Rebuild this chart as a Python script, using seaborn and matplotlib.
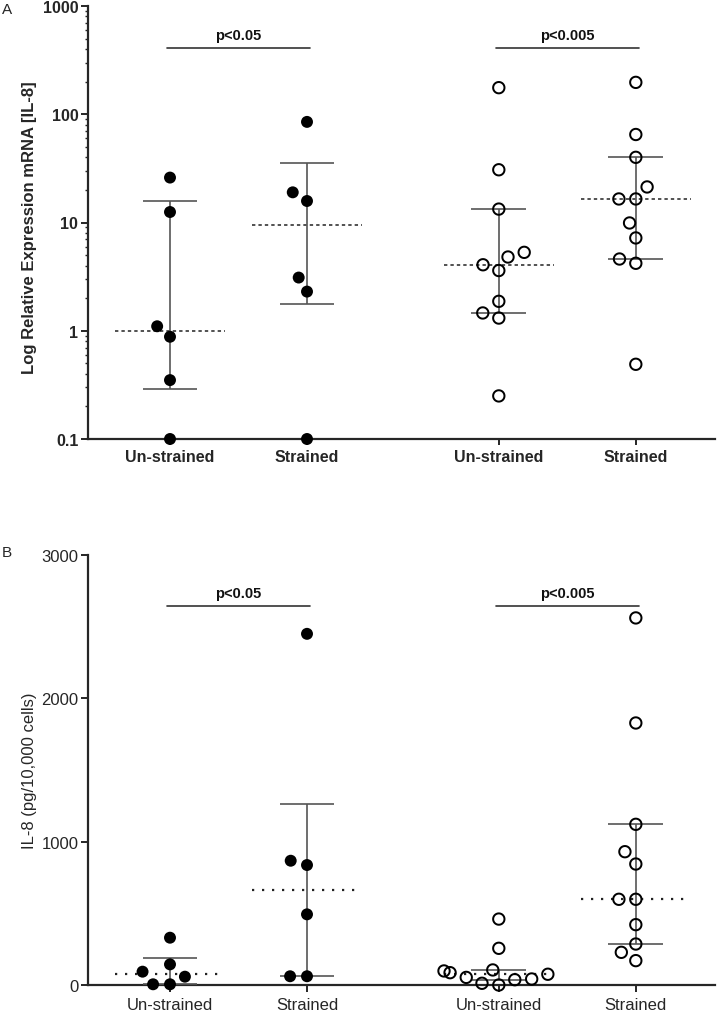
import numpy as np
import pandas as pd
import matplotlib
matplotlib.use("Agg")
import matplotlib.pyplot as plt
from matplotlib.path import Path
import seaborn as sns
from matplotlib.ticker import FixedLocator, LogLocator, NullFormatter

# ---------------- data ----------------
conditions = ["Un-strained", "Strained", "Un-strained", "Strained"]
cohorts = ["filled", "filled", "open", "open"]

# Panel A: Log relative expression mRNA [IL-8]
mrna_c1_unstrained = [26, 12.5, 1.1, 0.88, 0.35, 0.1]
mrna_c1_strained = [85, 19, 15.8, 3.1, 2.3, 0.1]
mrna_c2_unstrained = [176, 30.7, 13.3, 5.3, 4.8, 4.07, 3.6, 1.87, 1.46, 1.31, 0.25]
mrna_c2_strained = [197, 65, 40, 21.3, 16.5, 16.5, 9.9, 7.2, 4.6, 4.2, 0.49]

# Panel B: IL-8 (pg/10,000 cells)
il8_c1_unstrained = [330, 144, 93, 58, 5, 5]
il8_c1_strained = [2450, 867, 837, 493, 61, 61]
il8_c2_unstrained = [460, 256, 105, 98, 86, 75, 53, 42, 37, 12, 0]
il8_c2_strained = [2561, 1828, 1121, 930, 844, 598, 598, 421, 286, 228, 170]

p_labels = ["p<0.05", "p<0.005"]
sig_y_A = 410
sig_y_B = 2645

yticks_A = [0.1, 1, 10, 100, 1000]
yticklabels_A = ["0.1", "1", "10", "100", "1000"]
yticks_B = [0, 1000, 2000, 3000]
yticklabels_B = ["0", "1000", "2000", "3000"]

ylabel_A = "Log Relative Expression mRNA [IL-8]"
ylabel_B = "IL-8 (pg/10,000 cells)"

# ---------------- layout ----------------
positions = [1.0, 2.0, 3.4, 4.4]
XLIM = (0.4015, 4.978)

sns.set_style("ticks")
plt.rcParams["font.family"] = ["Liberation Sans", "DejaVu Sans"]
plt.rcParams["axes.linewidth"] = 1.5


def ring_marker(inner=0.70, n=72):
    t = np.linspace(0, 2 * np.pi, n, endpoint=False)
    outer = np.column_stack([np.cos(t), np.sin(t)])
    inn = np.column_stack([np.cos(t[::-1]), np.sin(t[::-1])]) * inner
    verts = np.vstack([outer, outer[:1], inn, inn[:1]])
    codes = ([Path.MOVETO] + [Path.LINETO] * (n - 1) + [Path.CLOSEPOLY]) * 2
    return Path(verts, codes)


RING = ring_marker()

fig = plt.figure(figsize=(7.2, 10.12), dpi=100)
axA = fig.add_axes([88 / 720, 1 - 440 / 1012, 627 / 720, 433 / 1012])
axB = fig.add_axes([88 / 720, 1 - 986 / 1012, 627 / 720, 430 / 1012])


def long_df(groups):
    rows = []
    for i, vals in enumerate(groups):
        for v in vals:
            rows.append({"pos": positions[i], "value": v, "cohort": cohorts[i]})
    return pd.DataFrame(rows)


def draw_panel(ax, groups, log, med_style, med_lw, bar_color, sig_y, p_size):
    df = long_df(groups)
    for cohort in ["filled", "open"]:
        sub = df[df["cohort"] == cohort]
        n_before = len(ax.collections)
        if cohort == "filled":
            sns.swarmplot(data=sub, x="pos", y="value", native_scale=True,
                          orient="v", color="black", size=8.6,
                          log_scale=(False, True) if log else None,
                          ax=ax, clip_on=False, zorder=5)
            pad = 3.0
        else:
            sns.swarmplot(data=sub, x="pos", y="value", native_scale=True,
                          orient="v", color="black", size=9.6, marker=RING,
                          log_scale=(False, True) if log else None,
                          ax=ax, clip_on=False, zorder=5)
            pad = 2.0
        for coll in ax.collections[n_before:]:
            coll.set_facecolor("black")
            coll.set_edgecolor("none")
            coll.set_linewidth(pad)  # invisible padding, widens the swarm spacing

    for i, vals in enumerate(groups):
        p = positions[i]
        med = np.median(vals)
        q1, q3 = np.percentile(vals, [25, 75], method="weibull")
        ax.hlines(med, p - 0.4, p + 0.4, colors="#222222", linestyles=med_style,
                  linewidth=med_lw, zorder=3)
        ax.vlines(p, q1, q3, colors=bar_color, linewidth=1.2, zorder=3)
        ax.hlines([q1, q3], p - 0.2, p + 0.2, colors=bar_color, linewidth=1.2, zorder=3)

    # significance bars
    for k, (a, b) in enumerate([(0, 1), (2, 3)]):
        xa, xb = positions[a] - 0.02, positions[b] + 0.02
        ax.plot([xa, xb], [sig_y, sig_y], color="#333333", lw=1.2, zorder=3)
        ax.annotate(p_labels[k], xy=((xa + xb) / 2, sig_y), xytext=(0, 9.5),
                    textcoords="offset points", ha="center", va="center",
                    fontsize=p_size, fontweight="bold", color="#111111")

    ax.set_xlim(*XLIM)
    ax.set_xticks(positions)
    sns.despine(ax=ax)
    ax.spines["left"].set_linewidth(1.6)
    ax.spines["bottom"].set_linewidth(1.6)
    ax.set_xlabel("")


# ---------------- Panel A ----------------
draw_panel(axA, [mrna_c1_unstrained, mrna_c1_strained, mrna_c2_unstrained, mrna_c2_strained],
           True, (0, (2.2, 2.0)), 1.1, "#555555", sig_y_A, 10.5)
axA.set_ylim(0.1, 1000)
axA.yaxis.set_major_locator(FixedLocator(yticks_A))
axA.set_yticklabels(yticklabels_A, fontsize=11.5, fontweight="bold")
axA.yaxis.set_minor_locator(LogLocator(base=10, subs=np.arange(2, 10)))
axA.yaxis.set_minor_formatter(NullFormatter())
axA.set_xticklabels(conditions, fontsize=11.5, fontweight="bold")
axA.tick_params(axis="y", which="major", length=5, width=1.4, pad=2)
axA.tick_params(axis="y", which="minor", length=2.5, width=1.0)
axA.tick_params(axis="x", length=4, width=1.4, pad=3)
axA.set_ylabel(ylabel_A, fontsize=12, fontweight="bold")
axA.yaxis.set_label_coords(-0.081, 0.49)

# ---------------- Panel B ----------------
draw_panel(axB, [il8_c1_unstrained, il8_c1_strained, il8_c2_unstrained, il8_c2_strained],
           False, (0, (1.0, 3.5)), 1.6, "#555555", sig_y_B, 10.5)
axB.set_ylim(0, 3000)
axB.set_yticks(yticks_B)
axB.set_yticklabels(yticklabels_B, fontsize=12)
axB.set_xticklabels(conditions, fontsize=12)
axB.tick_params(axis="y", length=5, width=1.4, pad=2)
axB.tick_params(axis="x", length=5, width=1.4, pad=3.5)
axB.set_ylabel(ylabel_B, fontsize=12)
axB.yaxis.set_label_coords(-0.081, 0.5)

fig.text(0.003, 0.997, "A", ha="left", va="top", fontsize=11)
fig.text(0.003, 1 - 546 / 1012, "B", ha="left", va="top", fontsize=11)

fig.savefig("out.png", dpi=100)
